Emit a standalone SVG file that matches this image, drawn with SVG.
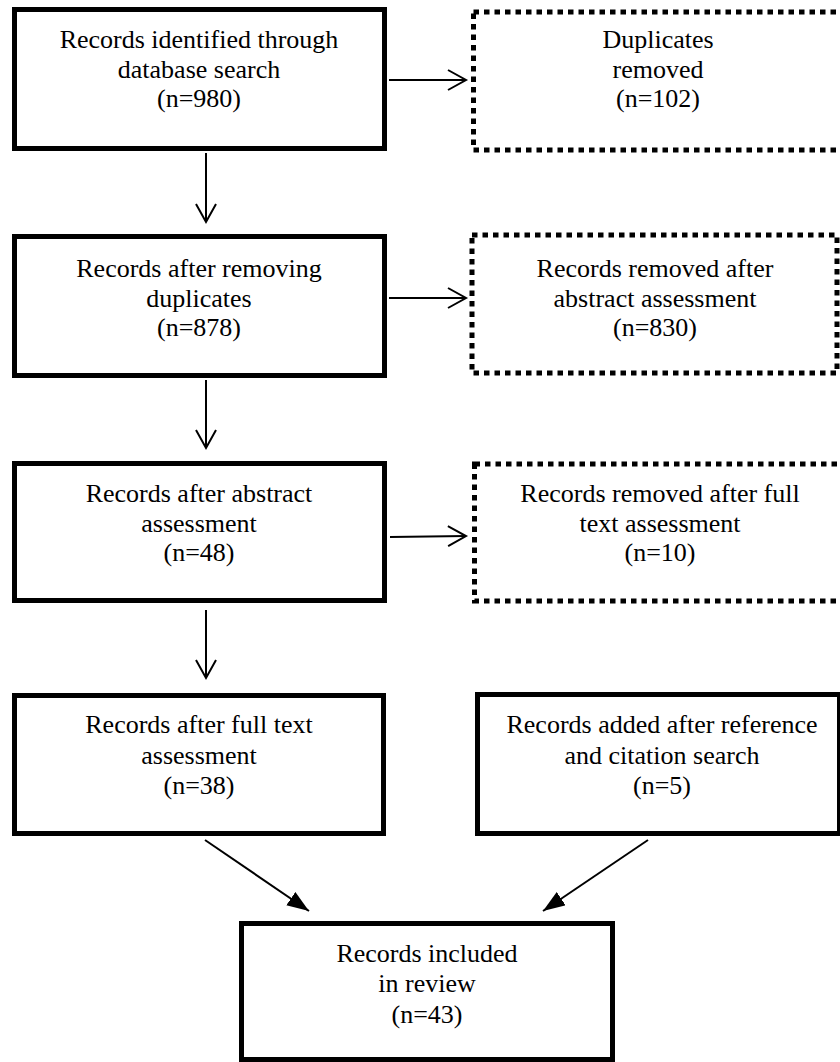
<svg xmlns="http://www.w3.org/2000/svg" width="840" height="1062" viewBox="0 0 840 1062">
<style>
.box{fill:#fff;stroke:#000;stroke-width:5}
.dot{fill:#fff;stroke:#000;stroke-width:5;stroke-dasharray:5.5 5}
.t{font-family:"Liberation Serif","Times New Roman",serif;font-size:26px;fill:#000;text-anchor:middle}
.c{stroke:#000;stroke-width:2;fill:none}
</style>
<defs>
<marker id="open" markerUnits="userSpaceOnUse" markerWidth="24" markerHeight="24" refX="20" refY="11" orient="auto">
<path d="M2,1 L20,11 L2,21" fill="none" stroke="#000" stroke-width="2"/>
</marker>
<marker id="fill" markerUnits="userSpaceOnUse" markerWidth="24" markerHeight="18" refX="22" refY="8" orient="auto">
<path d="M0,0 L22,8 L0,16 z" fill="#000"/>
</marker>
</defs>
<rect width="840" height="1062" fill="#fff"/>
<g id="connectors">
<line class="c" x1="389" y1="80" x2="466" y2="80" marker-end="url(#open)"/>
<line class="c" x1="206" y1="153" x2="206" y2="222" marker-end="url(#open)"/>
<line class="c" x1="389" y1="298" x2="466" y2="298" marker-end="url(#open)"/>
<line class="c" x1="206" y1="380" x2="206" y2="448" marker-end="url(#open)"/>
<line class="c" x1="390" y1="537" x2="466" y2="536" marker-end="url(#open)"/>
<line class="c" x1="206" y1="610" x2="206" y2="678" marker-end="url(#open)"/>
<line class="c" x1="205" y1="840" x2="309" y2="911" marker-end="url(#fill)"/>
<line class="c" x1="648" y1="840" x2="543" y2="911" marker-end="url(#fill)"/>
</g>
<g id="n1">
<rect class="box" x="14.5" y="9.5" width="370" height="139"/>
<text class="t" x="199" y="48">Records identified through</text>
<text class="t" x="199" y="78">database search</text>
<text class="t" x="199" y="107">(n=980)</text>
</g>
<g id="n2">
<rect class="dot" x="473.5" y="12" width="380" height="138"/>
<text class="t" x="658" y="48">Duplicates</text>
<text class="t" x="658" y="78">removed</text>
<text class="t" x="658" y="107">(n=102)</text>
</g>
<g id="n3">
<rect class="box" x="14.5" y="236.5" width="370" height="139"/>
<text class="t" x="199" y="277">Records after removing</text>
<text class="t" x="199" y="307">duplicates</text>
<text class="t" x="199" y="336">(n=878)</text>
</g>
<g id="n4">
<rect class="dot" x="472" y="235" width="365" height="138"/>
<text class="t" x="655" y="277">Records removed after</text>
<text class="t" x="655" y="307">abstract assessment</text>
<text class="t" x="655" y="336">(n=830)</text>
</g>
<g id="n5">
<rect class="box" x="14.5" y="463.5" width="370" height="137"/>
<text class="t" x="199" y="502">Records after abstract</text>
<text class="t" x="199" y="532">assessment</text>
<text class="t" x="199" y="561">(n=48)</text>
</g>
<g id="n6">
<rect class="dot" x="474.5" y="464" width="380" height="137"/>
<text class="t" x="660" y="502">Records removed after full</text>
<text class="t" x="660" y="532">text assessment</text>
<text class="t" x="660" y="561">(n=10)</text>
</g>
<g id="n7">
<rect class="box" x="14.5" y="695.5" width="369" height="138"/>
<text class="t" x="199" y="733">Records after full text</text>
<text class="t" x="199" y="764">assessment</text>
<text class="t" x="199" y="794">(n=38)</text>
</g>
<g id="n8">
<rect class="box" x="477.5" y="694.5" width="362" height="139"/>
<text class="t" x="662" y="733">Records added after reference</text>
<text class="t" x="662" y="764">and citation search</text>
<text class="t" x="662" y="794">(n=5)</text>
</g>
<g id="n9">
<rect class="box" x="241.5" y="923.5" width="371" height="136"/>
<text class="t" x="427" y="962">Records included</text>
<text class="t" x="427" y="992">in review</text>
<text class="t" x="427" y="1023">(n=43)</text>
</g>
</svg>
